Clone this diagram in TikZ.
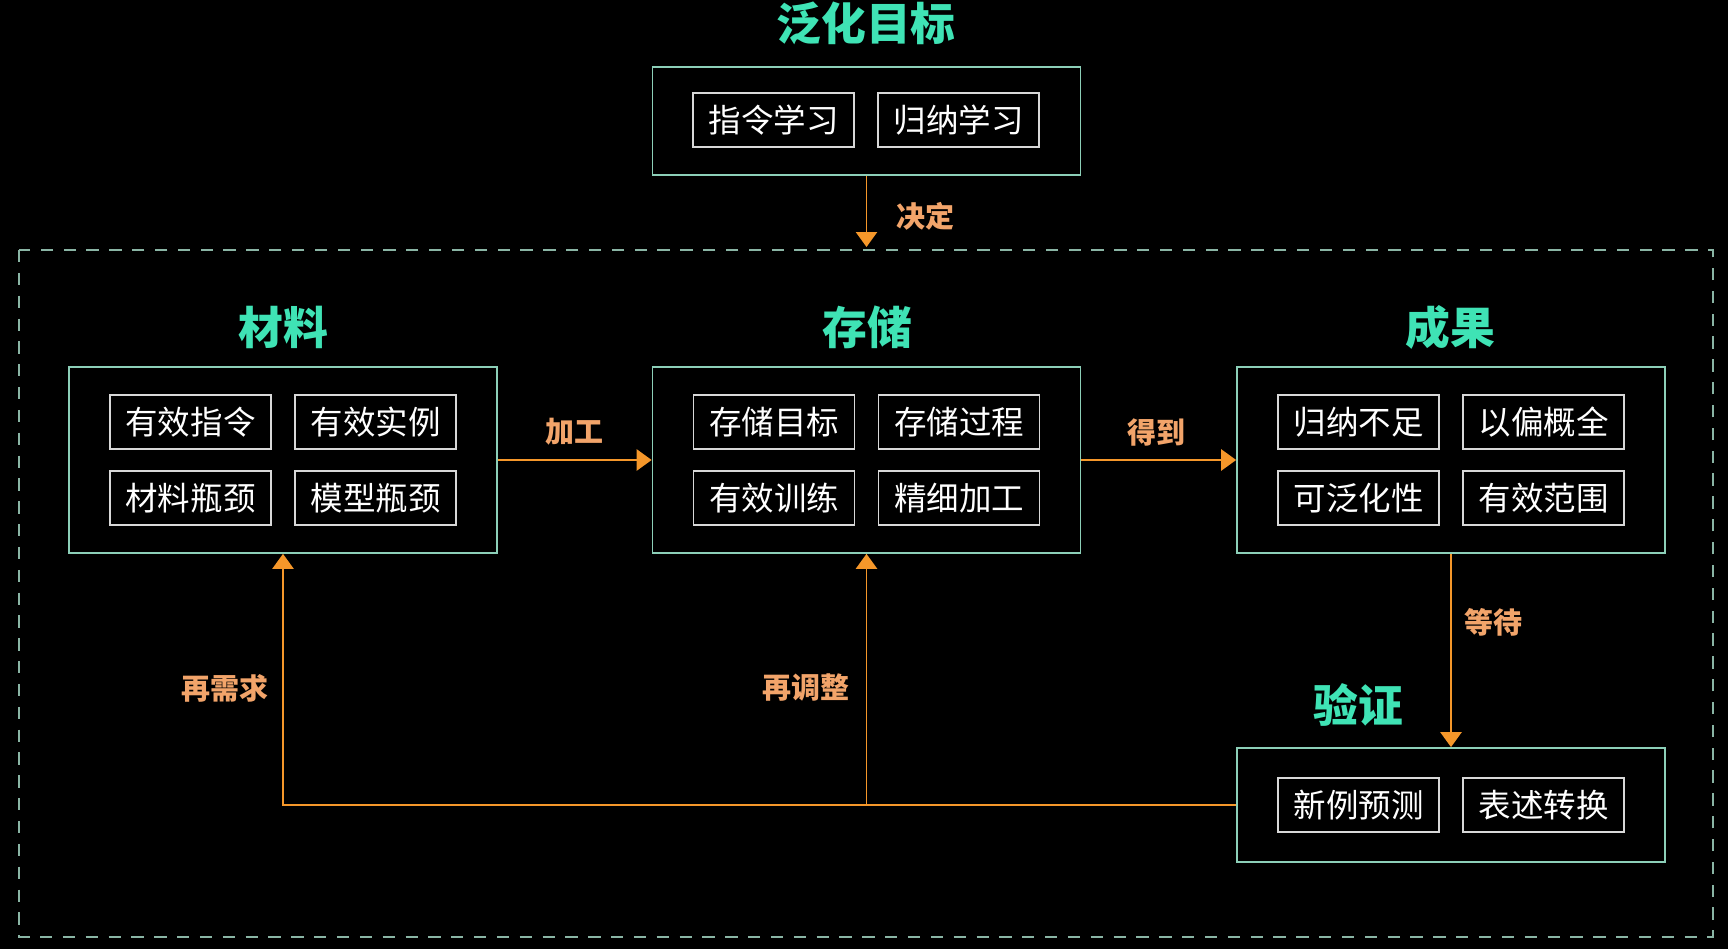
\documentclass[tikz,border=0pt]{standalone}
\usepackage{fontspec}
\setmainfont{Noto Sans CJK SC}
\usetikzlibrary{arrows.meta}

\definecolor{titlegreen}{HTML}{3FE3B5}
\definecolor{boxline}{HTML}{8CCFB8}
\definecolor{itemline}{HTML}{D8D8D8}
\definecolor{arrowor}{HTML}{F5972A}
\definecolor{labelor}{HTML}{F2A46A}
\definecolor{dashline}{HTML}{8AB5A5}

\tikzset{
  groupbox/.style={draw=boxline, line width=1pt, minimum width=8.56cm, minimum height=3.72cm, inner sep=0pt},
  itembox/.style={draw=itemline, line width=0.8pt, minimum width=3.22cm, minimum height=1.08cm, inner sep=0pt,
    text=white, font=\fontsize{18.5}{18.5}\selectfont},
  grouptitle/.style={text=titlegreen, font=\fontsize{25.5}{25.5}\selectfont\bfseries},
  flowlabel/.style={text=labelor, font=\fontsize{16.5}{16.5}\selectfont\bfseries},
  flow/.style={draw=arrowor, line width=1.1pt, -{Triangle[width=12pt,length=8.5pt]}},
}

\begin{document}
\begin{tikzpicture}[x=0.02cm, y=-0.02cm]

        \fill[black] (0,0) rectangle (1728,949);
        \useasboundingbox (0,0) rectangle (1728,949);

        \draw[dashline, line width=1pt, dash pattern=on 7pt off 6pt] (19,250) rectangle (1713,937);

        % group boxes
        \node[groupbox, minimum height=2.16cm] (goal)   at (866.5,121) {};
        \node[groupbox]                        (mat)    at (283,460)   {};
        \node[groupbox]                        (store)  at (866.5,460) {};
        \node[groupbox]                        (result) at (1451,460)  {};
        \node[groupbox, minimum height=2.28cm] (check)  at (1451,805)  {};

        % titles
        \node[grouptitle] (goalT)   at (866,23)  {泛化目标};
        \node[grouptitle] (matT)    at (283,327) {材料};
        \node[grouptitle] (storeT)  at (867,327) {存储};
        \node[grouptitle] (resultT) at (1450,327) {成果};
        \node[grouptitle] (checkT)  at (1358,705) {验证};

        % items
        \begin{scope}[every node/.style={itembox}]
          \node (g1) at (773.5,120) {指令学习};
          \node (g2) at (958.5,120) {归纳学习};

          \node (m1) at (190.5,422) {有效指令};
          \node (m2) at (375.5,422) {有效实例};
          \node (m3) at (190.5,498) {材料瓶颈};
          \node (m4) at (375.5,498) {模型瓶颈};

          \node (s1) at (774,422) {存储目标};
          \node (s2) at (959,422) {存储过程};
          \node (s3) at (774,498) {有效训练};
          \node (s4) at (959,498) {精细加工};

          \node (r1) at (1358.5,422) {归纳不足};
          \node (r2) at (1543.5,422) {以偏概全};
          \node (r3) at (1358.5,498) {可泛化性};
          \node (r4) at (1543.5,498) {有效范围};

          \node (c1) at (1358.5,805) {新例预测};
          \node (c2) at (1543.5,805) {表述转换};
        \end{scope}

        % connectors
        \coordinate (frame) at (866.5,247);
        \coordinate (turn) at (store.south |- check.west);

        \draw[flow] (goal.south) -- (frame);
        \draw[flow] (mat.east) -- (store.west);
        \draw[flow] (store.east) -- (result.west);
        \draw[flow] (result.south) -- (check.north);
        \draw[flow] (check.west) -| (mat.south);
        \draw[flow] (turn) -- (store.south);

        % labels
        \node[flowlabel] (decide) at (925,216)  {决定};
        \node[flowlabel] (work)   at (574,432)  {加工};
        \node[flowlabel] (get)    at (1156,432) {得到};
        \node[flowlabel] (wait)   at (1493,622) {等待};
        \node[flowlabel] (again)  at (225,688)  {再需求};
        \node[flowlabel] (adjust) at (806,688)  {再调整};

      \end{tikzpicture}
\end{document}
